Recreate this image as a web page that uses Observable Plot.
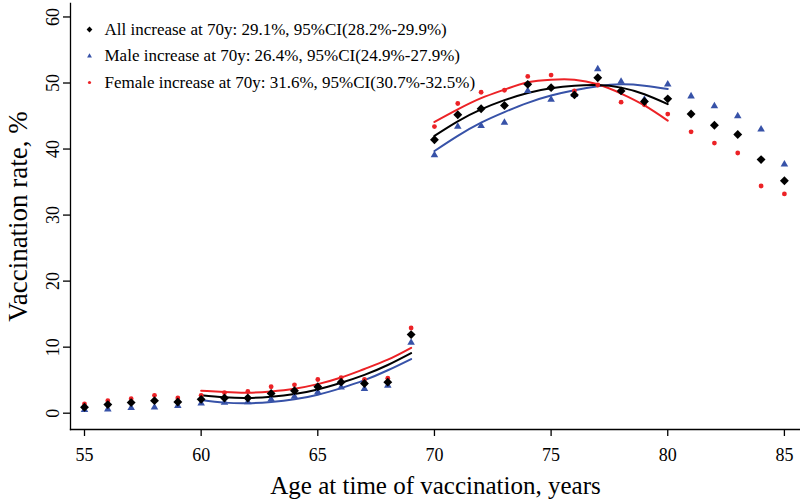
<!DOCTYPE html>
<html>
<head>
<meta charset="utf-8">
<script src="https://cdn.jsdelivr.net/npm/d3@7"></script>
<script src="https://cdn.jsdelivr.net/npm/@observablehq/plot@0.6"></script>
<style>
  body { margin: 0; background: #fff; }
  #chart { width: 800px; height: 502px; }
</style>
</head>
<body>
<div id="chart"></div>
<script>
// ages and observed vaccination rates (%)
const ages = [55, 56, 57, 58, 59, 60, 61, 62, 63, 64, 65, 66, 67, 68, 69, 70, 71, 72, 73, 74, 75, 76, 77, 78, 79, 80, 81, 82, 83, 84, 85];
const allRate = [0.9, 1.3, 1.6, 1.9, 1.7, 2.1, 2.3, 2.3, 3.0, 3.4, 4.0, 4.7, 4.5, 4.7, 11.9, 41.4, 45.2, 46.1, 46.6, 49.8, 49.3, 48.2, 50.8, 48.8, 47.2, 47.6, 45.3, 43.6, 42.2, 38.4, 35.2];
const maleRate = [0.5, 0.6, 0.8, 0.9, 1.1, 1.5, 1.6, 1.7, 2.1, 2.5, 3.2, 3.9, 3.7, 4.2, 10.7, 39.1, 43.4, 43.5, 44.0, 48.8, 47.5, 48.2, 52.1, 50.2, 47.5, 49.8, 48.0, 46.5, 45.0, 43.0, 37.7];
const femaleRate = [1.4, 1.9, 2.2, 2.7, 2.3, 2.7, 3.1, 3.3, 4.0, 4.3, 5.1, 5.4, 5.1, 5.3, 12.9, 43.4, 46.9, 48.6, 48.9, 51.0, 51.2, 48.8, 49.7, 47.1, 46.7, 45.3, 42.6, 40.9, 39.4, 34.4, 33.2];

// fitted curves, each side of 70y
const fitAgesBefore = [60, 61, 62, 63, 64, 65, 66, 67, 68, 69];
const fitAgesAfter = [70, 71, 72, 73, 74, 75, 76, 77, 78, 79, 80];
const allFitBefore = [2.7, 2.4, 2.3, 2.5, 2.9, 3.6, 4.6, 5.8, 7.3, 9.1];
const maleFitBefore = [2.0, 1.6, 1.5, 1.7, 2.1, 2.8, 3.8, 5.0, 6.5, 8.2];
const femaleFitBefore = [3.4, 3.2, 3.1, 3.3, 3.7, 4.4, 5.4, 6.7, 8.1, 9.9];
const allFitAfter = [42.0, 44.2, 46.0, 47.4, 48.5, 49.2, 49.6, 49.7, 49.3, 48.3, 46.8];
const maleFitAfter = [39.7, 42.0, 44.0, 45.6, 47.0, 48.1, 48.9, 49.5, 49.8, 49.6, 49.1];
const femaleFitAfter = [44.1, 46.0, 47.7, 49.0, 50.1, 50.5, 50.5, 49.8, 48.4, 46.6, 44.3];

const legendLabels = [
  "All increase at 70y: 29.1%, 95%CI(28.2%-29.9%)",
  "Male increase at 70y: 26.4%, 95%CI(24.9%-27.9%)",
  "Female increase at 70y: 31.6%, 95%CI(30.7%-32.5%)"
];
const xTicks = [55, 60, 65, 70, 75, 80, 85];
const yTicks = [0, 10, 20, 30, 40, 50, 60];
const xTitle = "Age at time of vaccination, years";
const yTitle = "Vaccination rate, %";

const serif = "'Liberation Serif', 'Times New Roman', serif";

// styles par série (ordre de dessin : bleu, rouge, noir au-dessus)
const series = [
  {rate: maleRate, before: maleFitBefore, after: maleFitAfter, color: "#3752a8", symbol: "triangle", r: 2.8, legendR: 1.8, legendRow: 1},
  {rate: femaleRate, before: femaleFitBefore, after: femaleFitAfter, color: "#ec2226", symbol: "circle", r: 2.4, legendR: 1.6, legendRow: 2},
  {rate: allRate, before: allFitBefore, after: allFitAfter, color: "#000000", symbol: "diamond2", r: 4.0, legendR: 2.6, legendRow: 0}
];

const toRows = (xs, ys) => xs.map((x, i) => ({age: x, value: ys[i]}));

const marks = [
  Plot.frame({anchor: "left", stroke: "#000", strokeWidth: 1.3}),
  Plot.frame({anchor: "bottom", stroke: "#000", strokeWidth: 1.3}),
  Plot.axisX(xTicks, {tickSize: 7, tickPadding: 12, label: null, fontSize: 18, fontFamily: serif, strokeWidth: 1.3}),
  Plot.axisY(yTicks, {tickSize: 7, tickRotate: -90, tickPadding: 5, label: null, fontSize: 18, fontFamily: serif, strokeWidth: 1.3})
];

// courbes ajustées
for (const s of series) {
  for (const seg of [toRows(fitAgesBefore, s.before), toRows(fitAgesAfter, s.after)]) {
    marks.push(Plot.line(seg, {x: "age", y: "value", stroke: s.color, strokeWidth: 2, curve: "natural"}));
  }
}
// points observés
for (const s of series) {
  marks.push(Plot.dot(toRows(ages, s.rate), {x: "age", y: "value", symbol: s.symbol, fill: s.color, stroke: "none", r: s.r}));
}
// légende dans le coin haut-gauche
for (const s of series) {
  const dy = 26 + s.legendRow * 26.5;
  marks.push(Plot.dot([legendLabels[s.legendRow]], {frameAnchor: "top-left", dx: 19, dy, symbol: s.symbol, fill: s.color, stroke: "none", r: s.legendR}));
  marks.push(Plot.text([legendLabels[s.legendRow]], {frameAnchor: "top-left", dx: 34, dy, text: d => d, textAnchor: "start", lineAnchor: "middle", fontSize: 17, fontFamily: serif, fill: "#000"}));
}
// titres des axes
marks.push(Plot.text([xTitle], {frameAnchor: "bottom", dy: 56, text: d => d, textAnchor: "middle", lineAnchor: "middle", fontSize: 25, fontFamily: serif, fill: "#000"}));
marks.push(Plot.text([yTitle], {frameAnchor: "left", dx: -52, dy: 0, rotate: -90, text: d => d, textAnchor: "middle", lineAnchor: "middle", fontSize: 27, fontFamily: serif, fill: "#000"}));

const plot = Plot.plot({
  width: 800,
  height: 502,
  marginLeft: 70,
  marginRight: 0,
  marginTop: 3,
  marginBottom: 73,
  style: {fontFamily: serif, fontSize: "18px", color: "#000", background: "#fff", overflow: "visible"},
  x: {domain: [54.4, 85.69]},
  y: {domain: [-2.47, 62.04]},
  marks
});
document.getElementById("chart").appendChild(plot);
</script>
</body>
</html>
